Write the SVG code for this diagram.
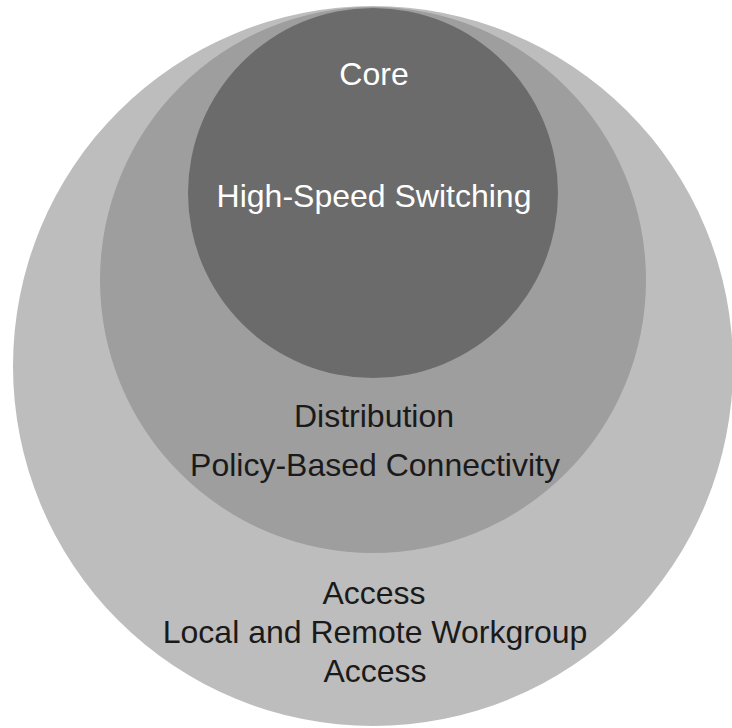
<svg xmlns="http://www.w3.org/2000/svg" width="732" height="728" viewBox="0 0 732 728">
<style>
.lbl{font-family:"Liberation Sans",Arial,sans-serif;font-size:32px;text-anchor:middle}
.dark{fill:#1a1a1a}
.light{fill:#ffffff}
</style>
<rect width="732" height="728" fill="#ffffff"/>
<g id="access">
<circle cx="373" cy="366" r="360" fill="#bdbdbd"/>
<text class="lbl dark" x="374" y="604">Access</text>
<text class="lbl dark" x="375" y="643">Local and Remote Workgroup</text>
<text class="lbl dark" x="375" y="682">Access</text>
</g>
<g id="distribution">
<circle cx="373" cy="280" r="273" fill="#9e9e9e"/>
<text class="lbl dark" x="374" y="427">Distribution</text>
<text class="lbl dark" x="375" y="476">Policy-Based Connectivity</text>
</g>
<g id="core">
<circle cx="373" cy="193" r="185" fill="#6b6b6b"/>
<text class="lbl light" x="374" y="85">Core</text>
<text class="lbl light" x="374" y="207">High-Speed Switching</text>
</g>
<g id="connectors"/>
</svg>
